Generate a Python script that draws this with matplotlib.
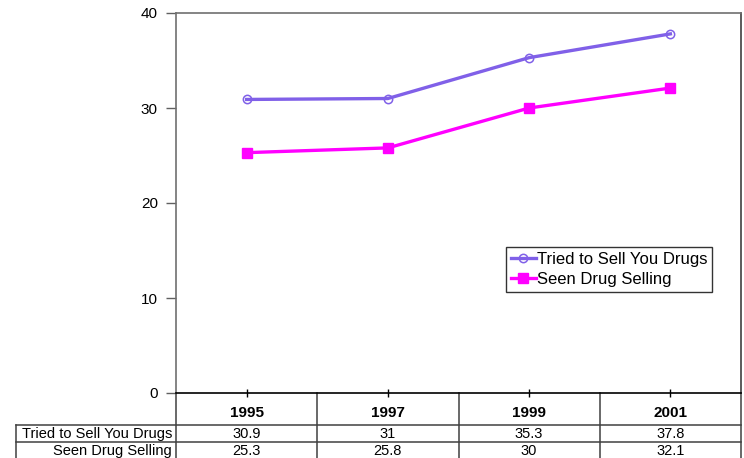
import matplotlib.pyplot as plt

plt.rcParams['font.family'] = ['Liberation Sans', 'DejaVu Sans']

# data
years = ['1995', '1997', '1999', '2001']
tried_to_sell = [30.9, 31, 35.3, 37.8]
seen_selling = [25.3, 25.8, 30, 32.1]
row_labels = ['Tried to Sell You Drugs', 'Seen Drug Selling']
row_text = [['30.9', '31', '35.3', '37.8'], ['25.3', '25.8', '30', '32.1']]

W, H = 744, 458
fig = plt.figure(figsize=(W / 100, H / 100), dpi=100)
ax = fig.add_axes([176 / W, (H - 393) / H, (741 - 176) / W, (393 - 13) / H])

x = list(range(len(years)))
ax.plot(x, tried_to_sell, color='#8060E8', lw=2.4, marker='o', ms=6,
        mfc='none', mec='#8060E8', mew=1.1, label='Tried to Sell You Drugs')
ax.plot(x, seen_selling, color='#FF00FF', lw=2.4, marker='s', ms=6.5,
        mfc='#FF00FF', mec='#FF00FF', label='Seen Drug Selling')

ax.set_xlim(-0.5, len(years) - 0.5)
ax.set_ylim(0, 40)
ax.set_yticks([0, 10, 20, 30, 40])
ax.tick_params(axis='y', labelsize=11, length=7, width=1, color='#606060', pad=6)
ax.set_xticks(x)
ax.set_xticklabels([])
ax.tick_params(axis='x', length=6, width=1, direction='inout', color='black')

for side in ['left', 'top']:
    ax.spines[side].set_color('#707070')
ax.spines['bottom'].set_color('black')
ax.spines['right'].set_color('#404040')
for s in ax.spines.values():
    s.set_linewidth(1.2)

leg = ax.legend(loc='lower left', bbox_to_anchor=(0.584, 0.266), fontsize=12,
                frameon=True, fancybox=False, handlelength=1.5, handletextpad=0.05,
                borderpad=0.3, labelspacing=0.3, borderaxespad=0)
leg.get_frame().set_edgecolor('black')
leg.get_frame().set_linewidth(1)

# data table below the axis
tr = ax.get_xaxis_transform()
def ay(py):
    return (393 - py) / 380

for i, yr in enumerate(years):
    ax.text(i, ay(413), yr, transform=tr, ha='center', va='center',
            fontsize=11, fontweight='bold', clip_on=False)
    for r in range(2):
        ax.text(i, ay(434 + r * 17), row_text[r][i], transform=tr,
                ha='center', va='center', fontsize=10.5, clip_on=False)
for r, lab in enumerate(row_labels):
    ax.text(-0.5, ay(434 + r * 17), lab + ' ', transform=tr, ha='right',
            va='center', fontsize=10.5, clip_on=False)

for b in [-0.5, 0.5, 1.5, 2.5, 3.5]:
    ax.plot([b, b], [0, ay(460)], transform=tr, color='#404040', lw=1.1, clip_on=False)
x_left = -0.5 - (176 - 16) / 141.25
for py in [425, 442]:
    ax.plot([x_left, 3.5], [ay(py), ay(py)], transform=tr, color='#404040',
            lw=1.1, clip_on=False)
ax.plot([x_left, x_left], [ay(425), ay(460)], transform=tr, color='#404040',
        lw=1.1, clip_on=False)

fig.savefig('out.png', dpi=100)
